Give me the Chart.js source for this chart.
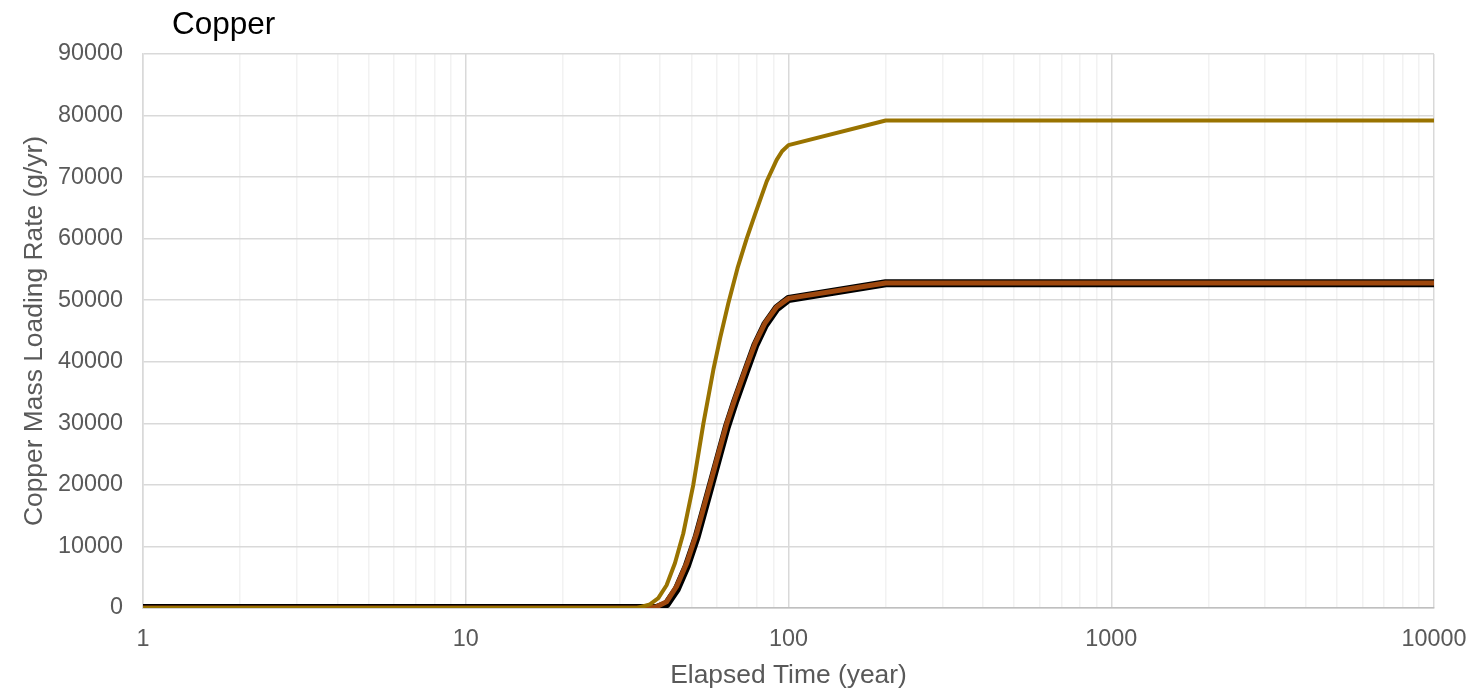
<!DOCTYPE html>
<html>
<head>
<meta charset="utf-8">
<script src="https://cdn.jsdelivr.net/npm/chart.js@4/dist/chart.umd.min.js"></script>
<style>
  html, body { margin: 0; padding: 0; background: #ffffff; }
  #wrap { width: 1473px; height: 692px; }
</style>
</head>
<body>
<div id="wrap"><canvas id="chartCopper"></canvas></div>
<script>
// values
const goldYears  = [1, 34, 37.2, 39.5, 41.9, 44.5, 47.2, 50.7, 54.5, 58.5, 61.5, 65.1, 69.5, 74.2, 78.8, 85.6, 91.9, 95.5, 100, 200, 10000];
const goldValues = [0, 0, 600, 1600, 3700, 7300, 12100, 20000, 30000, 38700, 44000, 49500, 55200, 60000, 64000, 69300, 72800, 74200, 75200, 79200, 79200];

const brownYears  = [1, 37, 39, 41.9, 45, 48.4, 51.9, 57.1, 61, 64.4, 68.5, 73.5, 78.8, 84.6, 91.9, 100, 200, 10000];
const brownValues = [0, 0, 200, 1000, 3500, 7300, 12100, 20000, 25500, 30000, 34200, 38700, 43000, 46300, 48900, 50300, 52800, 52800];
const blackValues = [0, 0, 0, 600, 3000, 6800, 11500, 19400, 24900, 29400, 33700, 38200, 42600, 46000, 48700, 50200, 52750, 52750];

const gridYears = [1, 2, 3, 4, 5, 6, 7, 8, 9,
    10, 20, 30, 40, 50, 60, 70, 80, 90,
    100, 200, 300, 400, 500, 600, 700, 800, 900,
    1000, 2000, 3000, 4000, 5000, 6000, 7000, 8000, 9000, 10000];
const tickYears = [1, 10, 100, 1000, 10000];

const toPoints = (xs, ys) => xs.map((x, i) => ({ x: x, y: ys[i] }));

const fontName = "'Liberation Sans', Arial, sans-serif";

const titlePlugin = {
    id: 'cornerTitle',
    afterDraw(chart) {
        const ctx = chart.ctx;
        ctx.save();
        ctx.font = '31.5px ' + fontName;
        ctx.fillStyle = '#000000';
        ctx.textBaseline = 'alphabetic';
        ctx.textAlign = 'left';
        ctx.fillText('Copper', 172, 34);
        ctx.restore();
    }
};

const ctx = document.getElementById('chartCopper').getContext('2d');
const chart = new Chart(ctx, {
    type: 'line',
    data: {
        datasets: [
            {
                label: 'Gold',
                data: toPoints(goldYears, goldValues),
                borderColor: '#997300',
                backgroundColor: 'transparent',
                borderWidth: 4,
                tension: 0
            },
            {
                label: 'Brown',
                data: toPoints(brownYears, brownValues),
                borderColor: '#9e480e',
                backgroundColor: 'transparent',
                borderWidth: 5,
                tension: 0
            },
            {
                label: 'Black',
                data: toPoints(brownYears, blackValues),
                borderColor: '#000000',
                backgroundColor: 'transparent',
                borderWidth: 8,
                tension: 0
            }
        ]
    },
    options: {
        responsive: true,
        maintainAspectRatio: false,
        animation: false,
        layout: { padding: { top: 54, right: 39, left: 0, bottom: 0 } },
        elements: { point: { radius: 0 }, line: { borderJoinStyle: 'round', borderCapStyle: 'round' } },
        plugins: {
            legend: { display: false },
            tooltip: { enabled: false }
        },
        scales: {
            x: {
                type: 'logarithmic',
                min: 1,
                max: 10000,
                afterBuildTicks: scale => {
                    scale.ticks = gridYears.map(v => ({ value: v }));
                },
                afterFit: scale => {
                    scale.height = 84;
                    scale.paddingLeft = 0;
                    scale.paddingRight = 0;
                },
                ticks: {
                    autoSkip: false,
                    maxRotation: 0,
                    padding: 18,
                    color: '#595959',
                    font: { family: fontName, size: 23.4 },
                    callback: value => tickYears.includes(value) ? String(value) : ''
                },
                grid: {
                    drawTicks: false,
                    lineWidth: 1.5,
                    color: c => tickYears.includes(c.tick.value) ? '#d9d9d9' : '#f2f2f2'
                },
                border: { color: '#bfbfbf', width: 1.5 },
                title: {
                    display: true,
                    text: 'Elapsed Time (year)',
                    color: '#595959',
                    font: { family: fontName, size: 26.4 },
                    padding: { top: 0, bottom: 0 }
                }
            },
            y: {
                min: 0,
                max: 90000,
                afterFit: scale => {
                    scale.width = 143;
                    scale.paddingTop = 0;
                    scale.paddingBottom = 0;
                },
                ticks: {
                    stepSize: 10000,
                    padding: 20,
                    color: '#595959',
                    font: { family: fontName, size: 23.4 },
                    callback: value => String(value)
                },
                grid: {
                    drawTicks: false,
                    lineWidth: 1.5,
                    color: '#d9d9d9'
                },
                border: { color: '#d9d9d9', width: 1.5 },
                title: {
                    display: true,
                    text: 'Copper Mass Loading Rate (g/yr)',
                    color: '#595959',
                    font: { family: fontName, size: 26.4 },
                    padding: { top: 19, bottom: 0 }
                }
            }
        }
    },
    plugins: [titlePlugin]
});
</script>
</body>
</html>
